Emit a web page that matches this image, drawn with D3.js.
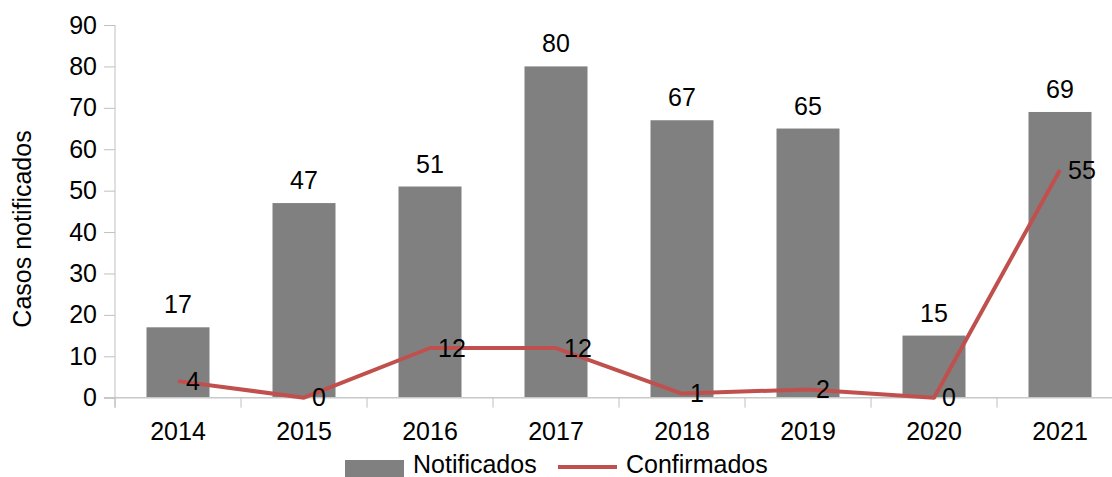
<!DOCTYPE html>
<html>
<head>
<meta charset="utf-8">
<script src="https://cdn.jsdelivr.net/npm/d3@7"></script>
<style>
  body { margin: 0; background: #fff; }
  svg { display: block; font-family: "Liberation Sans", Arial, sans-serif; }
  .axis path, .axis line { stroke: #c0c0c0; }
  .axis text { fill: #000; font-size: 25px; }
</style>
</head>
<body>
<script>
// chart data
const years = ["2014", "2015", "2016", "2017", "2018", "2019", "2020", "2021"];
const notificados = [17, 47, 51, 80, 67, 65, 15, 69];
const confirmados = [4, 0, 12, 12, 1, 2, 0, 55];
const yTicks = [0, 10, 20, 30, 40, 50, 60, 70, 80, 90];

const svgWidth = 1112, svgHeight = 477;
const margin = {top: 25, left: 115, bottom: 79};
const plotRight = 1123; // plot area runs slightly past the image edge
const fs = 25;

const svg = d3.select("body").append("svg")
  .attr("width", svgWidth)
  .attr("height", svgHeight);

const x = d3.scaleBand()
  .domain(years)
  .range([margin.left, plotRight])
  .padding(0);

const y = d3.scaleLinear()
  .domain([0, 90])
  .range([svgHeight - margin.bottom - 0.3, margin.top]);

const base = y(0);

// bars
svg.append("g")
  .selectAll("rect")
  .data(notificados)
  .join("rect")
    .attr("x", (d, i) => x(years[i]) + x.bandwidth() / 4)
    .attr("width", x.bandwidth() / 2)
    .attr("y", d => y(d))
    .attr("height", d => base - y(d))
    .attr("fill", "#808080");

// zero line
svg.append("line")
  .attr("x1", margin.left - 11).attr("x2", plotRight)
  .attr("y1", base).attr("y2", base)
  .attr("stroke", "#c8c8c8").attr("stroke-width", 1.5);

// y axis
const gY = svg.append("g")
  .attr("class", "axis")
  .attr("transform", "translate(" + margin.left + ",0)")
  .call(d3.axisLeft(y).tickValues(yTicks).tickSize(11).tickPadding(7).tickSizeOuter(0));
gY.select(".domain").attr("d", "M0," + margin.top + "V" + (base + 10));

// x axis labels
const gX = svg.append("g")
  .attr("class", "axis")
  .attr("transform", "translate(0," + base + ")")
  .call(d3.axisBottom(x).tickSize(0).tickPadding(25));
gX.select(".domain").remove();

// boundary ticks between categories
svg.append("g")
  .selectAll("line")
  .data(d3.range(years.length + 1))
  .join("line")
    .attr("x1", i => margin.left + i * x.step())
    .attr("x2", i => margin.left + i * x.step())
    .attr("y1", base)
    .attr("y2", base + 10)
    .attr("stroke", "#c0c0c0");

// bar value labels
svg.append("g")
  .selectAll("text")
  .data(notificados)
  .join("text")
    .attr("x", (d, i) => x(years[i]) + x.bandwidth() / 2)
    .attr("y", d => y(d) - 14)
    .attr("text-anchor", "middle")
    .attr("font-size", fs)
    .text(d => d);

// confirmed line
const line = d3.line()
  .x((d, i) => x(years[i]) + x.bandwidth() / 2)
  .y(d => y(d));

svg.append("path")
  .datum(confirmados)
  .attr("d", line)
  .attr("fill", "none")
  .attr("stroke", "#c0504d")
  .attr("stroke-width", 4)
  .attr("stroke-linejoin", "round");

svg.append("g")
  .selectAll("text")
  .data(confirmados)
  .join("text")
    .attr("x", (d, i) => x(years[i]) + x.bandwidth() / 2 + 8)
    .attr("y", d => y(d))
    .attr("dy", "0.35em")
    .attr("font-size", fs)
    .text(d => d);

// y title
svg.append("text")
  .attr("transform", "translate(31,229) rotate(-90)")
  .attr("text-anchor", "middle")
  .attr("font-size", fs)
  .text("Casos notificados");

// legend
const legend = svg.append("g").attr("transform", "translate(0,473)");
legend.append("rect")
  .attr("x", 345).attr("y", -13).attr("width", 59).attr("height", 17)
  .attr("fill", "#808080");
legend.append("text")
  .attr("x", 413).attr("font-size", fs)
  .text("Notificados");
legend.append("line")
  .attr("x1", 558).attr("x2", 617).attr("y1", -6).attr("y2", -6)
  .attr("stroke", "#c0504d").attr("stroke-width", 4);
legend.append("text")
  .attr("x", 626).attr("font-size", fs)
  .text("Confirmados");
</script>
</body>
</html>
